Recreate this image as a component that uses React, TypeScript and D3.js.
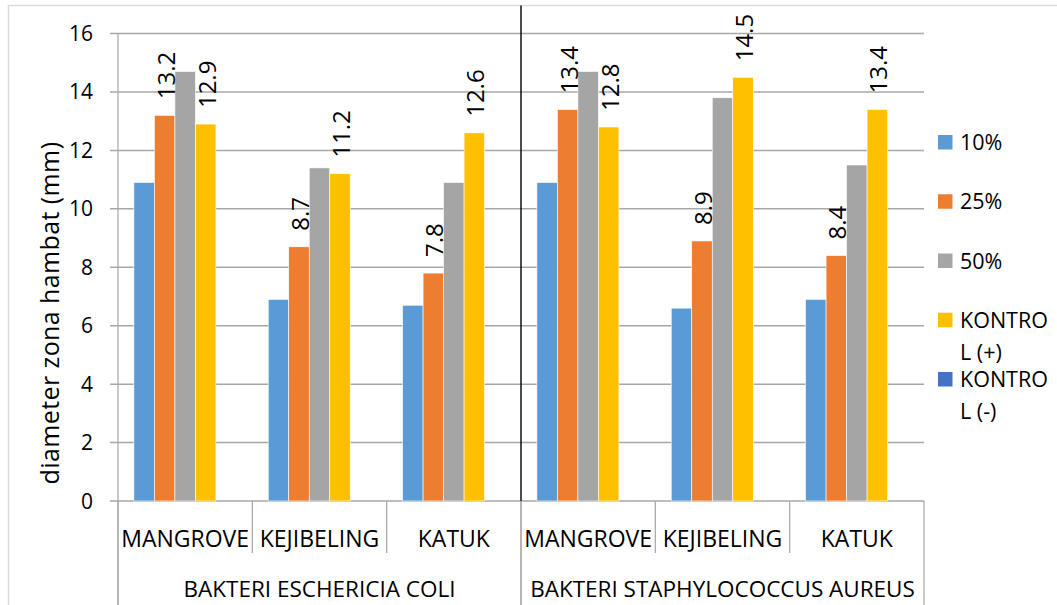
import React from "react";
import * as d3 from "d3";

// Plant extracts grouped by test bacterium
const groups = ["BAKTERI ESCHERICIA COLI", "BAKTERI STAPHYLOCOCCUS AUREUS"];
const plants = ["MANGROVE", "KEJIBELING", "KATUK"];
const categories = groups.flatMap((g) => plants.map((p) => `${g}|${p}`));

const seriesNames = ["10%", "25%", "50%", "KONTROL (+)", "KONTROL (-)"];
const legendLines = [["10%"], ["25%"], ["50%"], ["KONTRO", "L (+)"], ["KONTRO", "L (-)"]];
const seriesColors = ["#5B9BD5", "#ED7D31", "#A5A5A5", "#FFC000", "#4472C4"];

// Inhibition zone diameter (mm), one value per category
const conc10: (number | null)[] = [10.9, 6.9, 6.7, 10.9, 6.6, 6.9];
const conc25: (number | null)[] = [13.2, 8.7, 7.8, 13.4, 8.9, 8.4];
const conc50: (number | null)[] = [14.7, 11.4, 10.9, 14.7, 13.8, 11.5];
const kontrolPlus: (number | null)[] = [12.9, 11.2, 12.6, 12.8, 14.5, 13.4];
const kontrolMinus: (number | null)[] = [null, null, null, null, null, null];
const seriesValues = [conc10, conc25, conc50, kontrolPlus, kontrolMinus];
const labelledSeries = [1, 3];

const yTicks = [0, 2, 4, 6, 8, 10, 12, 14, 16];

const W = 1057;
const H = 605;
const FONT = "'Open Sans', 'Noto Sans', sans-serif";

export default function App() {
  const left = 118;
  const right = 924;
  const top = 33.5;
  const bottom = 501;

  const y = d3.scaleLinear().domain([0, 16]).range([bottom, top]);
  const x0 = d3.scaleBand<string>().domain(categories).range([left, right]).paddingInner(0).paddingOuter(0);
  const x1 = d3
    .scaleBand<string>()
    .domain(seriesNames)
    .range([0, x0.bandwidth()])
    .paddingInner(0)
    .paddingOuter(0.775);
  const xg = d3.scaleBand<string>().domain(groups).range([left, right]);

  const gridColor = "#A8A8A8";

  return (
    <svg
      width={W}
      height={H}
      style={{ position: "absolute", left: 0, top: 0, background: "#fff" }}
      fontFamily={FONT}
    >
      <rect x={0} y={0} width={W} height={H} fill="#fff" />
      {/* chart frame */}
      <rect x={8.5} y={5.5} width={1200} height={800} fill="none" stroke="#D9D9D9" strokeWidth={1.5} />

      {/* horizontal gridlines with outside tick stubs */}
      {yTicks.map((t) => (
        <line key={`g${t}`} x1={left - 8} x2={right} y1={y(t)} y2={y(t)} stroke={gridColor} strokeWidth={1.5} />
      ))}
      {yTicks.map((t) => (
        <text key={`t${t}`} x={93} y={y(t) + 7.5} textAnchor="end" fontSize={21} fill="#000">
          {t}
        </text>
      ))}
      <line x1={left} x2={left} y1={top} y2={H + 5} stroke={gridColor} strokeWidth={1.25} />

      {/* bars */}
      {categories.map((c, ci) =>
        seriesNames.map((s, si) => {
          const v = seriesValues[si][ci];
          if (v == null) return null;
          const bx = (x0(c) as number) + (x1(s) as number);
          return (
            <rect
              key={`${c}-${s}`}
              x={bx}
              y={y(v)}
              width={x1.bandwidth()}
              height={y(0) - y(v)}
              fill={seriesColors[si]}
              stroke="#fff"
              strokeWidth={0.6}
            />
          );
        })
      )}

      {/* value labels */}
      {categories.map((c, ci) =>
        labelledSeries.map((si) => {
          const v = seriesValues[si][ci];
          if (v == null) return null;
          const cx = (x0(c) as number) + (x1(seriesNames[si]) as number) + x1.bandwidth() / 2;
          const ty = y(v) - 16;
          const tx = cx + 10;
          return (
            <text
              key={`l${c}-${si}`}
              transform={`translate(${tx},${ty}) rotate(-90)`}
              fontSize={24}
              fill="#000"
            >
              {v.toFixed(1)}
            </text>
          );
        })
      )}

      {/* group divider */}
      <line x1={xg("BAKTERI STAPHYLOCOCCUS AUREUS")} x2={xg("BAKTERI STAPHYLOCOCCUS AUREUS")} y1={5.5} y2={bottom} stroke="#000" strokeWidth={1.4} />

      {/* category axis: plant labels and dividers */}
      {categories.map((c, ci) => {
        const cx0 = x0(c) as number;
        const isGroupStart = ci % plants.length === 0;
        return (
          <g key={`cat${c}`}>
            {!isGroupStart && (
              <line x1={cx0} x2={cx0} y1={bottom} y2={553} stroke={gridColor} strokeWidth={1.25} />
            )}
            <text x={cx0 + x0.bandwidth() / 2} y={547} textAnchor="middle" fontSize={23} fill="#000">
              {plants[ci % plants.length]}
            </text>
          </g>
        );
      })}
      {groups.map((g) => (
        <g key={`grp${g}`}>
          <line x1={(xg(g) as number) + xg.bandwidth()} x2={(xg(g) as number) + xg.bandwidth()} y1={bottom} y2={H + 5} stroke={gridColor} strokeWidth={1.25} />
          <line x1={xg(g)} x2={xg(g)} y1={bottom} y2={H + 5} stroke={gridColor} strokeWidth={1.25} />
          <text x={(xg(g) as number) + xg.bandwidth() / 2} y={597} textAnchor="middle" fontSize={22.5} fill="#000">
            {g}
          </text>
        </g>
      ))}

      {/* y axis title */}
      <text
        transform={`translate(59,313) rotate(-90)`}
        textAnchor="middle"
        fontSize={25}
        letterSpacing={0.4}
        fill="#000"
      >
        diameter zona hambat (mm)
      </text>

      {/* legend */}
      {seriesNames.map((s, i) => {
        const base = 150 + i * 59.25;
        return (
          <g key={`lg${s}`}>
            <rect x={938} y={base - 15} width={14.5} height={14.5} fill={seriesColors[i]} />
            <text x={960} y={base} fontSize={21.5} fill="#000">
              {legendLines[i].map((ln, li) => (
                <tspan key={li} x={960} dy={li === 0 ? 0 : 32}>
                  {ln}
                </tspan>
              ))}
            </text>
          </g>
        );
      })}
    </svg>
  );
}
